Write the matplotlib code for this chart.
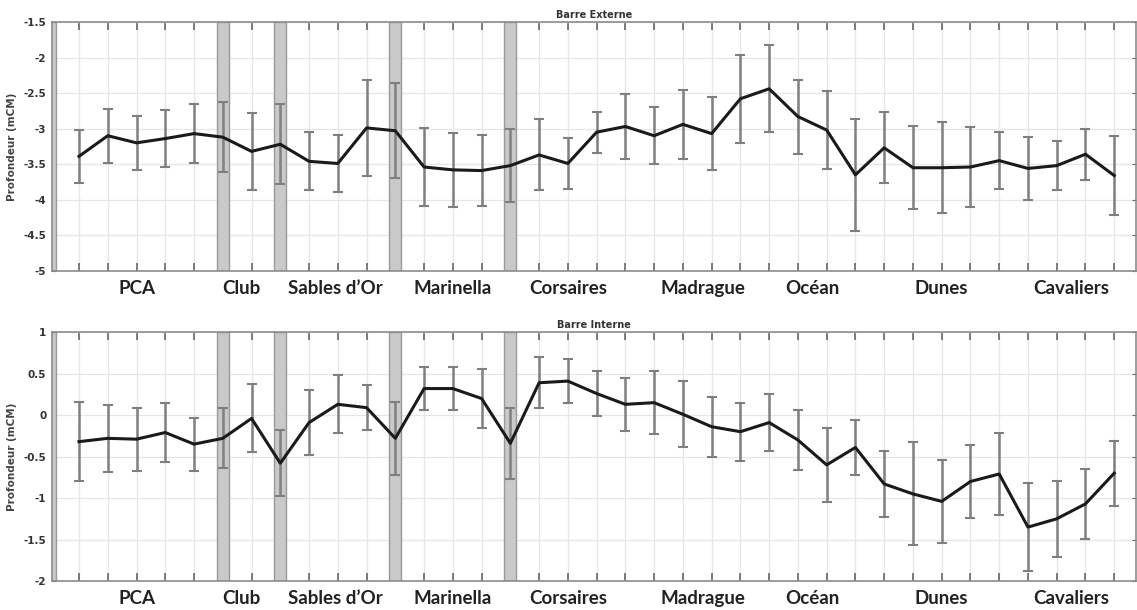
import matplotlib
matplotlib.use("Agg")
import matplotlib.pyplot as plt
import matplotlib.transforms as mtransforms

# Profile number along the beach (1..37)
stations = list(range(1, 38))

# Barre Externe: mean depth and standard deviation (mCM)
ext_mean = [-3.39, -3.10, -3.20, -3.14, -3.07, -3.12, -3.32, -3.22, -3.46, -3.49,
            -2.99, -3.03, -3.54, -3.58, -3.59, -3.52, -3.37, -3.49, -3.05, -2.97,
            -3.10, -2.94, -3.07, -2.58, -2.44, -2.83, -3.02, -3.65, -3.27, -3.55,
            -3.55, -3.54, -3.45, -3.56, -3.52, -3.36, -3.66]
ext_std = [0.37, 0.38, 0.38, 0.40, 0.42, 0.49, 0.54, 0.56, 0.41, 0.40,
           0.67, 0.67, 0.55, 0.52, 0.50, 0.51, 0.50, 0.36, 0.29, 0.46,
           0.40, 0.49, 0.51, 0.62, 0.61, 0.52, 0.55, 0.79, 0.50, 0.58,
           0.64, 0.56, 0.40, 0.44, 0.34, 0.36, 0.56]

# Barre Interne: mean depth and standard deviation (mCM)
int_mean = [-0.32, -0.28, -0.29, -0.21, -0.35, -0.28, -0.04, -0.58, -0.09, 0.13,
            0.09, -0.28, 0.32, 0.32, 0.20, -0.34, 0.39, 0.41, 0.26, 0.13,
            0.15, 0.01, -0.14, -0.20, -0.09, -0.30, -0.60, -0.39, -0.83, -0.95,
            -1.04, -0.80, -0.71, -1.35, -1.25, -1.07, -0.70]
int_std = [0.48, 0.40, 0.38, 0.36, 0.32, 0.36, 0.41, 0.40, 0.39, 0.35,
           0.27, 0.44, 0.26, 0.26, 0.35, 0.43, 0.31, 0.27, 0.27, 0.32,
           0.38, 0.40, 0.36, 0.35, 0.34, 0.36, 0.45, 0.33, 0.40, 0.62,
           0.50, 0.44, 0.50, 0.53, 0.46, 0.42, 0.39]

# Sector boundaries (shaded) and sector names
boundaries = [0, 6, 8, 12, 16]
sector_names = ["PCA", "Club", "Sables d\u2019Or", "Marinella", "Corsaires",
                "Madrague", "Oc\u00e9an", "Dunes", "Cavaliers"]
sector_pos = [3, 6.65, 9.9, 14, 18, 22.7, 26.5, 31, 35.5]

fig = plt.figure(figsize=(11.37, 6.10), dpi=100)
ax_ext = fig.add_axes([0.0457, 0.556, 0.9535, 0.408])
ax_int = fig.add_axes([0.0457, 0.0475, 0.9535, 0.408])

panels = [
    (ax_ext, ext_mean, ext_std, "Barre Externe", (-5, -1.5),
     [-5, -4.5, -4, -3.5, -3, -2.5, -2, -1.5], ["-5", "-4.5", "-4", "-3.5", "-3", "-2.5", "-2", "-1.5"]),
    (ax_int, int_mean, int_std, "Barre Interne", (-2, 1),
     [-2, -1.5, -1, -0.5, 0, 0.5, 1], ["-2", "-1.5", "-1", "-0.5", "0", "0.5", "1"]),
]

for ax, mean, std, title, ylim, yticks, ylabels in panels:
    ax.set_axisbelow(True)
    ax.grid(True, color="#e6e6e6", linewidth=0.9)

    for b in boundaries:
        ax.axvspan(b - 0.21, b + 0.21, facecolor="#c9c9c9", edgecolor="#9a9a9a",
                   linewidth=1.0, zorder=1)

    ax.errorbar(stations, mean, yerr=std, fmt="none", ecolor="#7f7f7f",
                elinewidth=1.8, capsize=3.5, capthick=1.5, zorder=2)
    ax.plot(stations, mean, color="#1a1a1a", linewidth=2.2, zorder=3)

    ax.set_xlim(0.06, 37.76)
    ax.set_ylim(*ylim)
    ax.set_xticks(stations)
    ax.set_xticklabels([])
    ax.set_yticks(yticks)
    ax.set_yticklabels(ylabels, fontsize=7.5, fontweight="bold", color="#333333")
    ax.tick_params(axis="x", direction="in", length=6, width=1.2, color="#666666",
                   top=True, bottom=True)
    ax.tick_params(axis="y", direction="in", length=3, width=0.8, color="#666666",
                   left=True, right=True, pad=4)
    for sp in ax.spines.values():
        sp.set_color("#8c8c8c")
        sp.set_linewidth(1.2)

    ax.set_title(title, fontsize=7, fontweight="bold", color="#333333", pad=3)
    ax.set_ylabel("Profondeur (mCM)", fontsize=7.5, fontweight="bold",
                  color="#444444", labelpad=5)

    trans = mtransforms.blended_transform_factory(ax.transData, ax.transAxes)
    for name, xpos in zip(sector_names, sector_pos):
        ax.text(xpos, -0.07, name, transform=trans, ha="center", va="center",
                fontsize=13.5, fontweight="bold", family=["Lato", "DejaVu Sans"],
                color="#222222")

fig.savefig("out.png", dpi=100)
